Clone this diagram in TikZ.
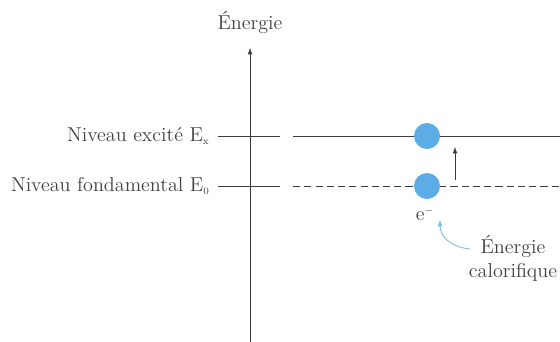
\documentclass[tikz,border=0pt]{standalone}
\usepackage{amsmath}
\usepackage{tikz,color,pgf}
\usetikzlibrary{calc}
\usepackage{xcolor}
\definecolor{electron}{RGB}{92,172,230}
\definecolor{chaleur}{RGB}{120,185,225}
\definecolor{trait}{RGB}{60,60,60}

\begin{document}
\begin{tikzpicture}[x=0.025cm, y=-0.025cm, line width=0.6pt]
	% Define style for labels and electrons
	\tikzstyle{etiquette}=[font=\fontsize{14.3}{17}\selectfont, text=black!75, inner sep=0pt]
	\tikzstyle{electron}=[circle, fill=electron, draw=none, inner sep=0pt, minimum size=0.65cm]
	
	\useasboundingbox (0,0) rectangle (560,342);
	
	% axe des energies
	\coordinate (bas) at (250,342);
	\coordinate (haut) at (250,48);
	\draw[trait, -latex] (bas) -- (haut);
	\node[etiquette] (energie) at (250,22) {\'Energie};
	
	% niveaux
	\coordinate (x1) at (218,136);
	\coordinate (x2) at (280,136);
	\coordinate (x3) at (293,136);
	\coordinate (x4) at (560,136);
	\coordinate (f1) at (218,186);
	\coordinate (f2) at (280,186);
	\coordinate (f3) at (293,186);
	\coordinate (f4) at (560,186);
	
	\draw[trait] (x1) -- (x2);
	\draw[trait] (x3) -- (x4);
	\draw[trait] (f1) -- (f2);
	\draw[trait, dashed, dash pattern=on 5pt off 3pt] (f3) -- (f4);
	
	\node[etiquette, anchor=east] (nx) at (210,136) {Niveau excit\'e E$_{\scriptscriptstyle\mathrm{x}}$};
	\node[etiquette, anchor=east] (nf) at (210,186) {Niveau fondamental E$_{\scriptscriptstyle 0}$};
	
	% electrons
	\node[electron] (ex) at (427,136) {};
	\node[electron] (ef) at (427,186) {};
	\node[etiquette] (e) at (425,214) {e$^{\scriptscriptstyle -}$};
	
	\coordinate (s1) at (455,180);
	\coordinate (s2) at (455,147);
	\draw[trait, -latex] (s1) -- (s2);
	
	% chaleur
	\node[etiquette, align=center] (cal) at (513,258) {\'Energie\\calorifique};
	\coordinate (c1) at (470,249);
	\coordinate (c2) at (440,220);
	\draw[chaleur, -latex] (c1) .. controls (450,247) and (440,236) .. (c2);
\end{tikzpicture}
\end{document}
